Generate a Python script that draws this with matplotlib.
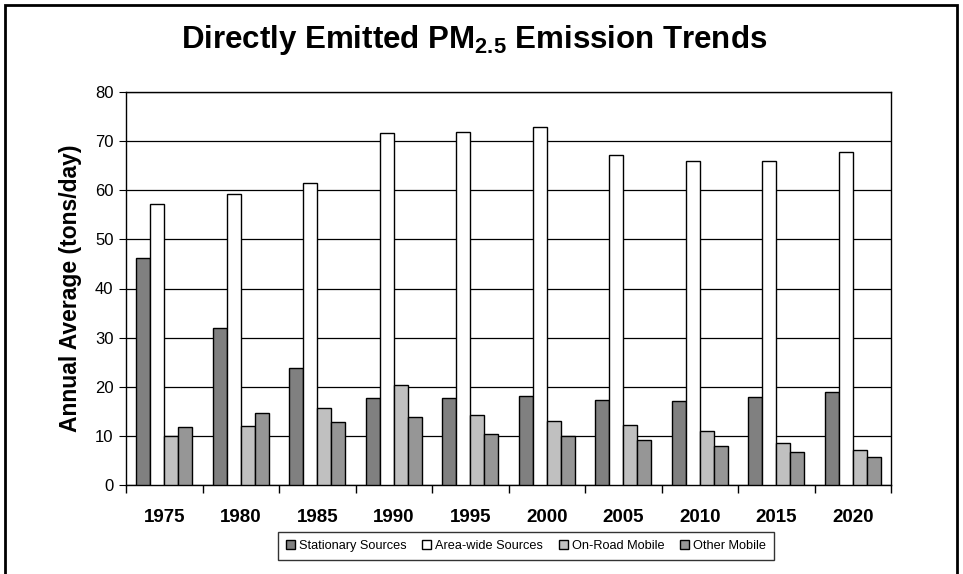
import numpy as np
import matplotlib.pyplot as plt
import matplotlib
from matplotlib.patches import Rectangle

matplotlib.rcParams['font.family'] = ['Liberation Sans', 'DejaVu Sans']
matplotlib.rcParams['mathtext.fontset'] = 'custom'
matplotlib.rcParams['mathtext.bf'] = 'Liberation Sans:bold'
matplotlib.rcParams['mathtext.rm'] = 'Liberation Sans'

# data (tons/day)
years = ['1975', '1980', '1985', '1990', '1995', '2000', '2005', '2010', '2015', '2020']
stationary = [46.3, 31.9, 23.8, 17.7, 17.7, 18.2, 17.4, 17.1, 17.9, 19.0]
area_wide = [57.3, 59.3, 61.4, 71.6, 71.8, 72.8, 67.1, 65.9, 66.0, 67.7]
on_road = [10.0, 12.0, 15.7, 20.3, 14.3, 13.0, 12.2, 10.9, 8.6, 7.1]
other_mobile = [11.9, 14.7, 12.8, 13.8, 10.3, 9.9, 9.2, 8.0, 6.7, 5.7]

series = [
    ('Stationary Sources', stationary, '#808080'),
    ('Area-wide Sources', area_wide, '#ffffff'),
    ('On-Road Mobile', on_road, '#c0c0c0'),
    ('Other Mobile', other_mobile, '#969696'),
]

fig = plt.figure(figsize=(9.63, 5.74), dpi=100)
ax = fig.add_axes([126/963, 1-485/574, 765/963, 393/574])

x = np.arange(len(years))
w = 1 / 5.5
for i, (name, vals, col) in enumerate(series):
    ax.bar(x + (i - 1.5) * w, vals, w, color=col, edgecolor='black',
           linewidth=1, label=name, zorder=3)

ax.set_xlim(-0.5, len(years) - 0.5)
ax.set_ylim(0, 80)
ax.set_yticks(range(0, 81, 10))
ax.tick_params(axis='y', labelsize=12, direction='out', length=5, pad=4)
ax.yaxis.grid(True, color='black', linewidth=0.9, zorder=0)

ax.set_xticks(x)
ax.set_xticklabels(years, fontsize=13.5, fontweight='bold')
ax.tick_params(axis='x', length=0, pad=17)
ax.set_xticks(np.arange(-0.5, len(years)), minor=True)
ax.tick_params(axis='x', which='minor', direction='out', length=6, width=1)

for s in ax.spines.values():
    s.set_linewidth(1)
    s.set_color('black')

ax.set_ylabel('Annual Average (tons/day)', fontsize=16.5, fontweight='bold', labelpad=9)

fig.text(474/963, 1-40/574, r'Directly Emitted PM$_{\mathbf{2.5}}$ Emission Trends',
         ha='center', va='center', fontsize=22.5, fontweight='bold')

leg = fig.legend(loc='center', bbox_to_anchor=(526/963, 1-546/574), ncol=4,
                 fontsize=9.2, frameon=True, fancybox=False, edgecolor='black',
                 handlelength=0.7, handleheight=0.7, handletextpad=0.3,
                 columnspacing=1.25, borderpad=0.6)
leg.get_frame().set_linewidth(1)

# outer chart frame
fig.patches.append(Rectangle((5/963, -0.05), 952/963, 1.05 - 5/574, transform=fig.transFigure,
                             fill=False, edgecolor='black', linewidth=2))

plt.savefig('out.png', dpi=100)
